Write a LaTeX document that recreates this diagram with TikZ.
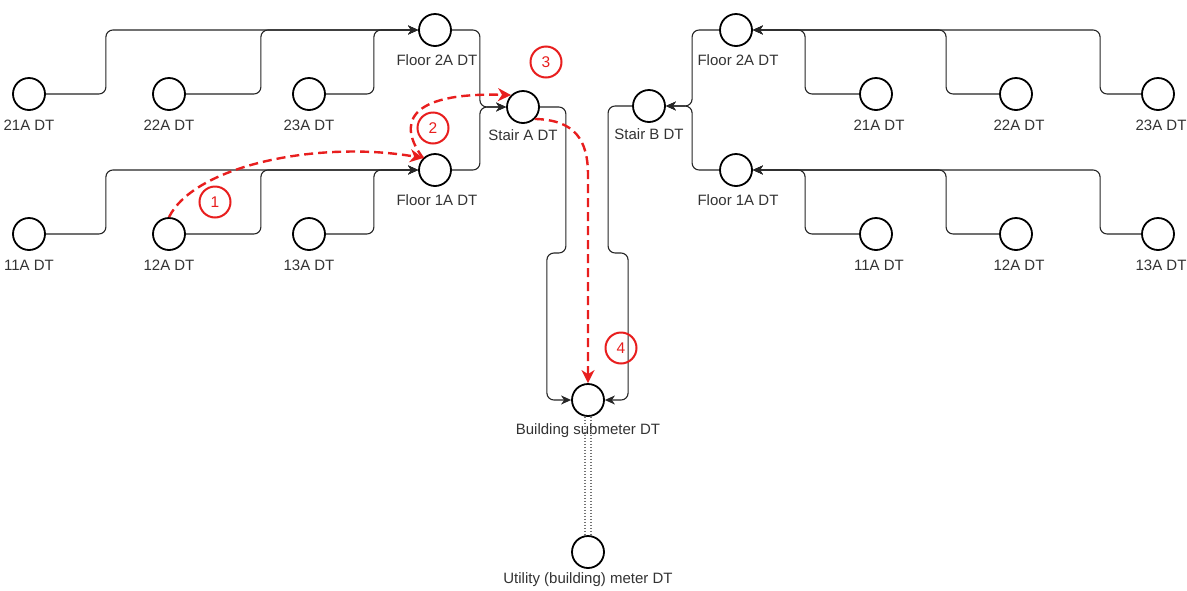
\documentclass[tikz,border=0pt]{standalone}
\usepackage{fontspec}
\setmainfont{Liberation Sans}
\usetikzlibrary{arrows.meta,calc}
\definecolor{redp}{RGB}{232,30,30}
\begin{document}
\begin{tikzpicture}[x=1pt,y=-1pt,
 dt/.style={circle,draw=black,line width=1.8pt,minimum size=32pt,inner sep=0pt},
 lbl/.style={anchor=base,font=\fontsize{15}{18}\selectfont,text=black!80,inner sep=0pt},
 conn/.style={draw=black!85,line width=1.1pt,rounded corners=7pt},
 arr/.style={-{Stealth[length=10pt,width=9pt,inset=3pt]}},
 flow/.style={draw=redp,line width=2.4pt,dash pattern=on 9pt off 5pt,-{Stealth[length=13pt,width=13pt,inset=4pt]}},
 num/.style={circle,draw=redp,line width=2pt,minimum size=31pt,inner sep=0pt,text=redp,font=\fontsize{15.5}{18}\selectfont},
 meterline/.style={draw=black!55,line width=1.2pt,dash pattern=on 1.5pt off 1.5pt}]
\useasboundingbox[fill=white] (0,0) rectangle (1187,590);

% nodes
\node[dt] (L21) at (29,94) {};
\node[dt] (L22) at (169,94) {};
\node[dt] (L23) at (309,94) {};
\node[dt] (LF2) at (435,30) {};
\node[dt] (LF1) at (435,170) {};
\node[dt] (L11) at (29,234) {};
\node[dt] (L12) at (169,234) {};
\node[dt] (L13) at (309,234) {};
\node[dt] (SA) at (523,107) {};
\node[dt] (SB) at (649,106) {};
\node[dt] (RF2) at (736,30) {};
\node[dt] (RF1) at (736,170) {};
\node[dt] (R21) at (876,94) {};
\node[dt] (R22) at (1016,94) {};
\node[dt] (R23) at (1158,94) {};
\node[dt] (R11) at (876,234) {};
\node[dt] (R12) at (1016,234) {};
\node[dt] (R13) at (1158,234) {};
\node[dt] (BS) at (588,400) {};
\node[dt] (UT) at (588,552) {};

% labels
\node[lbl] (tL21) at ([yshift=-36pt]L21.center) {21A DT};
\node[lbl] (tL22) at ([yshift=-36pt]L22.center) {22A DT};
\node[lbl] (tL23) at ([yshift=-36pt]L23.center) {23A DT};
\node[lbl] (tL11) at ([yshift=-36pt]L11.center) {11A DT};
\node[lbl] (tL12) at ([yshift=-36pt]L12.center) {12A DT};
\node[lbl] (tL13) at ([yshift=-36pt]L13.center) {13A DT};
\node[lbl] (tLF2) at ([yshift=-35pt,xshift=2pt]LF2.center) {Floor 2A DT};
\node[lbl] (tLF1) at ([yshift=-35pt,xshift=2pt]LF1.center) {Floor 1A DT};
\node[lbl] (tSA) at ([yshift=-33pt]SA.center) {Stair A DT};
\node[lbl] (tSB) at ([yshift=-33pt]SB.center) {Stair B DT};
\node[lbl] (tRF2) at ([yshift=-35pt,xshift=2pt]RF2.center) {Floor 2A DT};
\node[lbl] (tRF1) at ([yshift=-35pt,xshift=2pt]RF1.center) {Floor 1A DT};
\node[lbl] (tR21) at ([yshift=-36pt,xshift=3pt]R21.center) {21A DT};
\node[lbl] (tR22) at ([yshift=-36pt,xshift=3pt]R22.center) {22A DT};
\node[lbl] (tR23) at ([yshift=-36pt,xshift=3pt]R23.center) {23A DT};
\node[lbl] (tR11) at ([yshift=-36pt,xshift=3pt]R11.center) {11A DT};
\node[lbl] (tR12) at ([yshift=-36pt,xshift=3pt]R12.center) {12A DT};
\node[lbl] (tR13) at ([yshift=-36pt,xshift=3pt]R13.center) {13A DT};
\node[lbl] (tBS) at ([yshift=-34pt]BS.center) {Building submeter DT};
\node[lbl] (tUT) at ([yshift=-31pt]UT.center) {Utility (building) meter DT};

% left connectors
\draw[conn,arr] (L21.east) -- ++(60,0) |- (LF2.west);
\draw[conn,arr] (L22.east) -- ++(75,0) |- (LF2.west);
\draw[conn,arr] (L23.east) -- ++(48,0) |- (LF2.west);
\draw[conn,arr] (L11.east) -- ++(60,0) |- (LF1.west);
\draw[conn,arr] (L12.east) -- ++(75,0) |- (LF1.west);
\draw[conn,arr] (L13.east) -- ++(48,0) |- (LF1.west);
\draw[conn,arr] (LF2.east) -- ++(28,0) |- (SA.west);
\draw[conn,arr] (LF1.east) -- ++(28,0) |- (SA.west);
% right connectors
\draw[conn,arr] (R21.west) -- ++(-54,0) |- (RF2.east);
\draw[conn,arr] (R22.west) -- ++(-53,0) |- (RF2.east);
\draw[conn,arr] (R23.west) -- ++(-41,0) |- (RF2.east);
\draw[conn,arr] (R11.west) -- ++(-54,0) |- (RF1.east);
\draw[conn,arr] (R12.west) -- ++(-53,0) |- (RF1.east);
\draw[conn,arr] (R13.west) -- ++(-41,0) |- (RF1.east);
\draw[conn,arr] (RF2.west) -- ++(-27,0) |- (SB.east);
\draw[conn,arr] (RF1.west) -- ++(-27,0) |- (SB.east);
% stairs to building
\draw[conn,arr] (SA.east) -- ++(26,0) -- ++(0,146) -- ++(-19,0) |- (BS.west);
\draw[conn,arr] (SB.west) -- ++(-24,0) -- ++(0,147) -- ++(20,0) |- (BS.east);

% meter link
\draw[meterline] ([xshift=-3pt]BS.south) -- ([xshift=-3pt]UT.north);
\draw[meterline] ([xshift=3pt]BS.south) -- ([xshift=3pt]UT.north);

% red flow
\draw[flow] (L12.north) .. controls (195,165) and (320,140) .. (LF1.north west);
\draw[flow] (LF1.north west) .. controls (398,125) and (405,92) .. (SA.north west);
\draw[flow] (SA.south east) .. controls (575,120) and (588,140) .. (588,175) -- (BS.north);

\node[num] (n1) at (215,202) {1};
\node[num] (n2) at (433,128) {2};
\node[num] (n3) at (546,62) {3};
\node[num] (n4) at (621,348) {4};
\end{tikzpicture}
\end{document}
